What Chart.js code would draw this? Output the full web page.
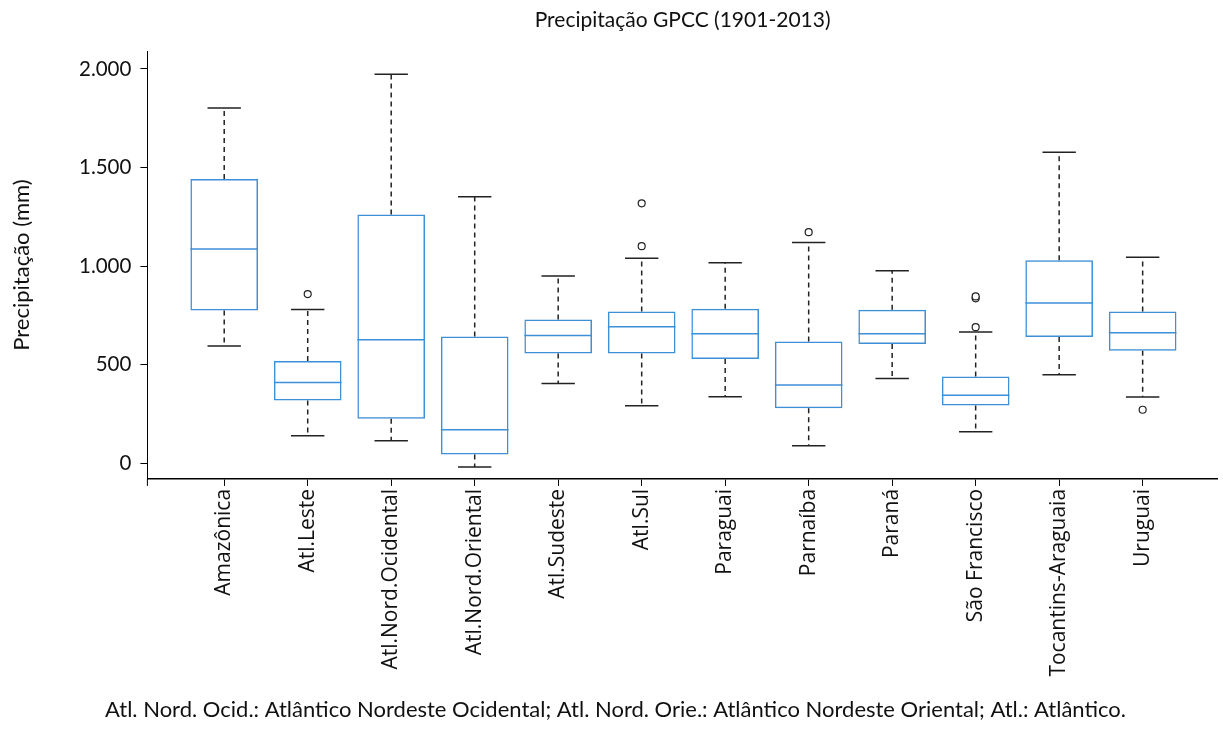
<!DOCTYPE html>
<html>
<head>
<meta charset="utf-8">
<script src="https://cdn.jsdelivr.net/npm/chart.js@4"></script>
<style>
  body { margin: 0; background: #fff; }
  #wrap { width: 1223px; height: 740px; }
</style>
</head>
<body>
<div id="wrap"><canvas id="chartBox"></canvas></div>
<script>
// dados (mm)
const bacias = ['Amazônica', 'Atl.Leste', 'Atl.Nord.Ocidental', 'Atl.Nord.Oriental', 'Atl.Sudeste', 'Atl.Sul',
    'Paraguai', 'Parnaíba', 'Paraná', 'São Francisco', 'Tocantins-Araguaia', 'Uruguai'];
const minimo  = [594, 139, 113, -20, 404, 291, 337,  88, 430, 159, 448, 335];
const q1      = [775, 318, 225,  44, 556, 556, 529, 279, 605, 292, 640, 570];
const mediana = [1086, 409, 626, 169, 648, 692, 656, 397, 656, 345, 812, 661];
const q3      = [1441, 518, 1262, 643, 729, 770, 783, 617, 778, 440, 1029, 770];
const maximo  = [1802, 780, 1973, 1352, 949, 1039, 1017, 1120, 976, 665, 1577, 1044];
const outliers = [[], [858], [], [], [], [1101, 1318], [], [1172], [], [690, 836, 846], [], [271]];
const yTicks = [0, 500, 1000, 1500, 2000];

const azul = '#3d8fd6';
const preto = '#222';

const caixas = bacias.map((_, i) => ({ x: i, y: [q1[i], q3[i]] }));
const pontos = [];
outliers.forEach((lista, i) => lista.forEach(v => pontos.push({ x: i, y: v })));

const fmt = v => String(v).replace(/\B(?=(\d{3})+(?!\d))/g, '.');

// bigodes, tampas e mediana desenhados pelas escalas do gráfico
const boxPlugin = {
    id: 'boxplot',
    afterDatasetsDraw(chart) {
        const { ctx, scales: { x, y }, chartArea } = chart;
        const meta = chart.getDatasetMeta(0);
        ctx.save();
        ctx.lineWidth = 1.5;
        bacias.forEach((_, i) => {
            const cx = x.getPixelForValue(i);
            const capL = x.getPixelForValue(i - 0.2);
            const capR = x.getPixelForValue(i + 0.2);
            // bigodes tracejados
            ctx.strokeStyle = preto;
            ctx.setLineDash([5, 4]);
            ctx.beginPath();
            ctx.moveTo(cx, y.getPixelForValue(q3[i]));
            ctx.lineTo(cx, y.getPixelForValue(maximo[i]));
            ctx.moveTo(cx, y.getPixelForValue(q1[i]));
            ctx.lineTo(cx, y.getPixelForValue(minimo[i]));
            ctx.stroke();
            // tampas
            ctx.setLineDash([]);
            ctx.beginPath();
            ctx.moveTo(capL, y.getPixelForValue(maximo[i]));
            ctx.lineTo(capR, y.getPixelForValue(maximo[i]));
            ctx.moveTo(capL, y.getPixelForValue(minimo[i]));
            ctx.lineTo(capR, y.getPixelForValue(minimo[i]));
            ctx.stroke();
            // mediana
            const bar = meta.data[i];
            ctx.strokeStyle = azul;
            ctx.beginPath();
            ctx.moveTo(bar.x - bar.width / 2, y.getPixelForValue(mediana[i]));
            ctx.lineTo(bar.x + bar.width / 2, y.getPixelForValue(mediana[i]));
            ctx.stroke();
        });
        // prolongamento do eixo y abaixo do eixo x
        ctx.strokeStyle = '#000';
        ctx.lineWidth = 1;
        ctx.beginPath();
        ctx.moveTo(chartArea.left, chartArea.bottom);
        ctx.lineTo(chartArea.left, chartArea.bottom + 7);
        ctx.stroke();
        ctx.restore();
    }
};

new Chart(document.getElementById('chartBox'), {
    type: 'bar',
    data: {
        datasets: [{
            data: caixas,
            backgroundColor: 'rgba(255,255,255,0)',
            borderColor: azul,
            borderWidth: 1.5,
            borderSkipped: false,
            barPercentage: 0.81,
            categoryPercentage: 1
        }, {
            type: 'scatter',
            data: pontos,
            pointRadius: 3.5,
            pointBackgroundColor: '#fff',
            pointBorderColor: preto,
            pointBorderWidth: 1.2
        }]
    },
    options: {
        responsive: true,
        maintainAspectRatio: false,
        animation: false,
        layout: { padding: { left: 8, right: 0, top: 4, bottom: 6 } },
        plugins: {
            legend: { display: false },
            tooltip: { enabled: false },
            title: {
                display: true,
                text: 'Precipitação GPCC (1901-2013)',
                fullSize: false,
                color: '#111',
                font: { family: 'Lato', size: 21, weight: 'normal' },
                padding: { top: 4, bottom: 18 }
            },
            subtitle: {
                display: true,
                position: 'bottom',
                text: 'Atl. Nord. Ocid.: Atlântico Nordeste Ocidental; Atl. Nord. Orie.: Atlântico Nordeste Oriental; Atl.: Atlântico.',
                color: '#111',
                font: { family: 'Lato', size: 22, weight: 'normal' },
                padding: { top: 17, bottom: 11 }
            }
        },
        scales: {
            x: {
                type: 'linear',
                min: -0.92,
                max: 11.9,
                offset: false,
                afterBuildTicks: s => { s.ticks = bacias.map((_, i) => ({ value: i })); },
                ticks: {
                    autoSkip: false,
                    minRotation: 90,
                    maxRotation: 90,
                    padding: 3,
                    color: '#111',
                    font: { family: 'Open Sans', size: 21 },
                    callback: v => bacias[v]
                },
                grid: { drawOnChartArea: false, offset: false, tickLength: 7, color: '#000' },
                border: { color: '#000', width: 1.5 }
            },
            y: {
                min: -80,
                max: 2090,
                afterBuildTicks: s => { s.ticks = yTicks.map(v => ({ value: v })); },
                ticks: {
                    padding: 9,
                    color: '#111',
                    font: { family: 'Lato', size: 20.5 },
                    callback: v => fmt(v)
                },
                title: {
                    display: true,
                    text: 'Precipitação (mm)',
                    color: '#111',
                    font: { family: 'Lato', size: 22 },
                    padding: { top: 1, bottom: 34.6 }
                },
                grid: { drawOnChartArea: false, tickLength: 7, color: '#000' },
                border: { color: '#000', width: 1 }
            }
        }
    },
    plugins: [boxPlugin]
});
</script>
</body>
</html>
